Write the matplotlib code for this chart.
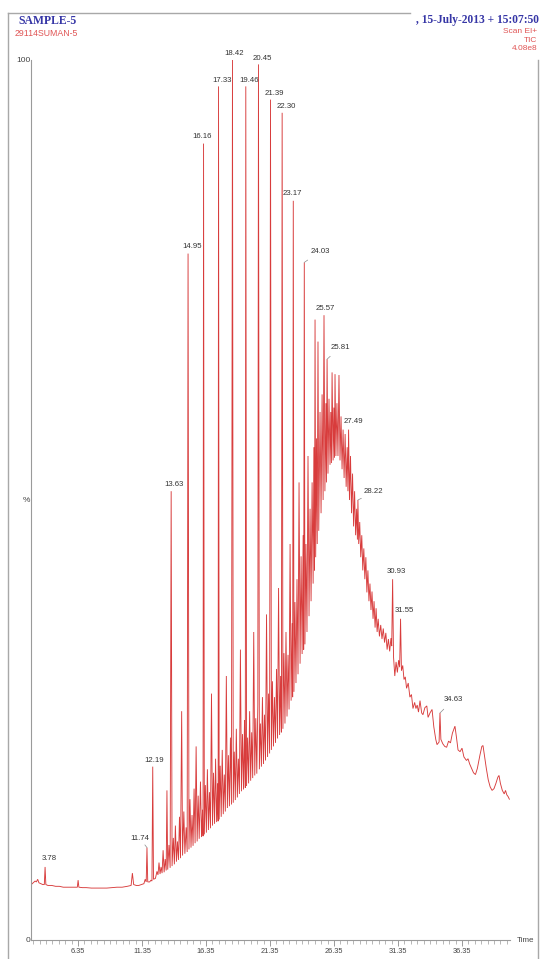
import matplotlib
matplotlib.use("Agg")
import numpy as np
from matplotlib import pyplot as plt
from matplotlib.lines import Line2D

plt.rcParams['font.family'] = ['Liberation Sans', 'DejaVu Sans']

# TIC trace: retention time (min) and intensity (% of base peak), in three stretches
rt_flat = [2.70, 2.85, 3.00, 3.10, 3.20, 3.30, 3.45, 3.60, 3.72, 3.78,
           3.84, 4.00, 4.30, 4.60, 4.90, 5.20, 5.50, 5.80, 6.10, 6.30,
           6.36, 6.42, 6.70, 7.00, 7.40, 7.80, 8.20, 8.60, 9.00, 9.40,
           9.80, 10.20, 10.50, 10.60, 10.70, 10.90, 11.10, 11.30, 11.50, 11.60,
           11.68, 11.74, 11.80, 11.95, 12.05, 12.13, 12.19, 12.25, 12.40, 12.52]
tic_flat = [6.3, 6.5, 6.7, 6.6, 6.9, 6.5, 6.4, 6.3, 6.3, 8.3,
            6.3, 6.2, 6.2, 6.1, 6.1, 6.0, 6.0, 6.0, 6.0, 6.0,
            6.8, 6.0, 5.95, 5.95, 5.9, 5.9, 5.9, 5.9, 5.95, 6.0,
            6.0, 6.1, 6.2, 7.6, 6.3, 6.2, 6.2, 6.3, 6.4, 6.9,
            6.6, 10.5, 6.6, 6.6, 6.8, 6.7, 19.7, 6.9, 7.0, 7.8]

rt_hump = [12.60, 12.68, 12.76, 12.84, 12.92, 13.00, 13.08, 13.16, 13.24, 13.30,
           13.36, 13.46, 13.55, 13.63, 13.70, 13.80, 13.88, 13.96, 14.04, 14.12,
           14.20, 14.28, 14.36, 14.45, 14.52, 14.62, 14.70, 14.80, 14.88, 14.95,
           15.02, 15.10, 15.18, 15.26, 15.34, 15.42, 15.50, 15.58, 15.66, 15.74,
           15.82, 15.92, 16.00, 16.08, 16.12, 16.16, 16.22, 16.30, 16.38, 16.46,
           16.54, 16.62, 16.70, 16.78, 16.86, 16.94, 17.02, 17.10, 17.18, 17.26,
           17.30, 17.33, 17.38, 17.46, 17.54, 17.62, 17.70, 17.78, 17.86, 17.94,
           18.02, 18.10, 18.18, 18.26, 18.34, 18.42, 18.48, 18.56, 18.64, 18.72,
           18.80, 18.88, 18.96, 19.04, 19.12, 19.20, 19.28, 19.36, 19.42, 19.46,
           19.52, 19.60, 19.68, 19.76, 19.84, 19.92, 20.00, 20.08, 20.16, 20.24,
           20.32, 20.40, 20.45, 20.52, 20.60, 20.68, 20.76, 20.84, 20.92, 21.00,
           21.08, 21.16, 21.24, 21.32, 21.39, 21.46, 21.54, 21.62, 21.70, 21.78,
           21.86, 21.94, 22.02, 22.10, 22.18, 22.24, 22.30, 22.36, 22.44, 22.52,
           22.60, 22.68, 22.76, 22.84, 22.92, 23.00, 23.08, 23.12, 23.17, 23.22,
           23.30, 23.38, 23.46, 23.54, 23.62, 23.70, 23.78, 23.86, 23.94, 23.98,
           24.03, 24.08, 24.16, 24.24, 24.32, 24.40, 24.48, 24.56, 24.64, 24.72,
           24.78, 24.83, 24.87, 24.92, 24.98, 25.04, 25.10, 25.16, 25.26, 25.34,
           25.42, 25.50, 25.57, 25.64, 25.72, 25.76, 25.81, 25.88, 25.96, 26.04,
           26.10, 26.15, 26.20, 26.28, 26.34, 26.39, 26.43, 26.50, 26.58, 26.66,
           26.74, 26.82, 26.90, 26.98, 27.06, 27.14, 27.22, 27.30, 27.38, 27.44,
           27.49, 27.56, 27.64, 27.72, 27.80, 27.88, 27.96, 28.04, 28.12, 28.18,
           28.22, 28.28, 28.36, 28.44, 28.52, 28.60, 28.68, 28.76, 28.84, 28.92,
           29.00, 29.08, 29.16, 29.24, 29.32, 29.40, 29.48, 29.56, 29.64, 29.72,
           29.80, 29.90, 30.00]
tic_hump = [7.4, 8.8, 7.5, 8.3, 7.6, 10.2, 7.7, 9.2, 7.9, 17.0,
            8.0, 10.8, 8.2, 51.0, 8.4, 11.6, 8.6, 13.0, 8.9, 11.2,
            9.1, 14.0, 9.3, 26.0, 9.6, 14.6, 9.8, 12.8, 10.0, 78.0,
            10.3, 16.0, 10.5, 14.2, 10.7, 17.2, 11.0, 22.0, 11.2, 16.4,
            11.5, 18.0, 11.7, 14.8, 11.8, 90.5, 12.0, 17.6, 12.2, 19.4,
            12.5, 16.8, 12.7, 28.0, 13.0, 19.0, 13.2, 20.6, 13.4, 17.8,
            13.5, 97.0, 13.7, 19.8, 14.0, 21.6, 14.3, 18.8, 14.6, 30.0,
            15.0, 21.0, 15.2, 23.0, 15.4, 100.0, 15.6, 21.4, 15.9, 24.0,
            16.2, 20.6, 16.6, 33.0, 16.9, 23.4, 17.1, 25.0, 17.3, 97.0,
            17.5, 23.0, 17.8, 26.0, 18.1, 23.6, 18.4, 35.0, 18.7, 25.2,
            18.9, 26.8, 99.5, 19.4, 24.6, 19.7, 27.6, 20.0, 25.6, 20.4,
            37.0, 20.8, 28.0, 21.2, 95.5, 21.6, 29.4, 22.0, 27.6, 22.4,
            30.8, 22.9, 40.0, 23.3, 30.0, 23.6, 94.0, 24.0, 32.6, 24.6,
            35.0, 25.4, 32.4, 26.2, 45.0, 27.2, 36.0, 27.6, 84.0, 28.2,
            38.4, 29.2, 41.0, 30.2, 52.0, 31.4, 43.6, 32.5, 46.0, 33.0,
            77.0, 33.6, 45.0, 35.0, 55.0, 36.8, 49.0, 38.5, 52.0, 40.5,
            56.0, 42.0, 70.5, 43.5, 57.0, 45.0, 68.0, 46.5, 60.0, 48.5,
            62.0, 50.0, 71.0, 51.0, 61.0, 52.0, 66.0, 53.0, 61.5, 54.0,
            60.0, 54.2, 64.5, 54.5, 60.5, 54.8, 64.3, 55.0, 61.0, 55.0,
            64.2, 54.5, 59.5, 53.5, 58.0, 52.5, 57.5, 51.5, 56.0, 51.0,
            58.0, 50.0, 55.0, 48.5, 53.0, 47.0, 51.0, 46.0, 49.0, 45.5,
            50.0, 45.0, 47.5, 43.5, 46.0, 42.0, 44.5, 41.0, 43.5, 39.5,
            42.0, 38.5, 40.5, 37.5, 39.6, 36.5, 38.5, 35.5, 37.7, 35.0,
            36.5, 34.5, 35.8]

rt_tail = [30.10, 30.20, 30.30, 30.40, 30.50, 30.60, 30.70, 30.80, 30.86, 30.93,
           31.00, 31.10, 31.20, 31.30, 31.40, 31.48, 31.55, 31.62, 31.72, 31.82,
           31.92, 32.02, 32.15, 32.28, 32.40, 32.52, 32.65, 32.75, 32.85, 32.95,
           33.07, 33.20, 33.30, 33.45, 33.60, 33.70, 33.85, 34.01, 34.15, 34.30,
           34.40, 34.56, 34.63, 34.70, 34.85, 35.00, 35.15, 35.30, 35.45, 35.60,
           35.80, 35.92, 36.04, 36.20, 36.35, 36.50, 36.70, 36.82, 36.95, 37.10,
           37.25, 37.40, 37.55, 37.75, 37.90, 37.99, 38.10, 38.25, 38.40, 38.55,
           38.70, 38.85, 39.00, 39.15, 39.24, 39.35, 39.50, 39.65, 39.75, 39.85,
           39.95, 40.05]
tic_tail = [34.2, 35.4, 33.8, 34.9, 33.0, 34.2, 32.8, 34.3, 33.4, 41.0,
            32.2, 30.0, 31.6, 30.4, 31.8, 31.0, 36.5, 30.6, 31.2, 29.6,
            29.9, 28.6, 29.2, 27.6, 27.9, 26.3, 27.0, 26.3, 26.7, 25.9,
            27.2, 25.8, 25.6, 26.4, 26.6, 25.3, 25.8, 26.2, 24.2, 22.8,
            22.2, 22.5, 25.8, 22.8, 22.3, 22.0, 21.9, 22.6, 22.4, 23.5,
            24.3, 23.0, 21.6, 21.4, 21.8, 20.8, 20.4, 20.6, 20.0, 19.5,
            19.0, 18.8, 19.5, 21.0, 22.0, 22.1, 21.0, 19.5, 18.2, 17.4,
            17.0, 17.2, 17.8, 18.5, 18.7, 17.8, 17.0, 16.6, 17.0, 16.5,
            16.3, 16.0]

# peaks that carry a retention-time label
labelled = [3.78, 11.74, 12.19, 13.63, 14.95, 16.16, 17.33, 18.42, 19.46, 20.45,
            21.39, 22.30, 23.17, 24.03, 25.57, 25.81, 27.49, 28.22, 30.93, 31.55,
            34.63]

time_ticks = [6.35, 11.35, 16.35, 21.35, 26.35, 31.35, 36.35]

sample_name = "SAMPLE-5"
sample_id = "29114SUMAN-5"
acquired = ", 15-July-2013 + 15:07:50"
scan_info = ["Scan EI+", "TIC", "4.08e8"]

# label centre offset from the peak apex, in pixels (dx, dy)
label_shift = {3.78: (4, 8), 11.74: (-7, 9), 12.19: (1, 6), 13.63: (3, 7),
               14.95: (4, 7), 16.16: (-2, 7), 17.33: (4, 6), 18.42: (2, 6),
               19.46: (3, 6), 20.45: (4, 6), 21.39: (4, 6), 22.30: (4, 6),
               23.17: (-1, 7), 24.03: (16, 11), 25.57: (1, 7), 25.81: (13, 12),
               27.49: (5, 8), 28.22: (16, 8), 30.93: (4, 8), 31.55: (4, 8),
               34.63: (13, 13)}

rt = rt_flat + rt_hump + rt_tail
tic = tic_flat + tic_hump + tic_tail

W, H = 542, 959
fig = plt.figure(figsize=(W / 100, H / 100), dpi=100)
ax = fig.add_axes([31 / W, 1 - 940 / H, 479 / W, 880 / H])

ax.plot(rt, tic, color='#d83c3c', lw=0.65, solid_joinstyle='miter')
ax.set_xlim(2.68, 40.1)
ax.set_ylim(0, 100)

for side in ['top', 'right']:
    ax.spines[side].set_visible(False)
for side in ['left', 'bottom']:
    ax.spines[side].set_color('#9a9a9a')
    ax.spines[side].set_linewidth(0.8)

ax.set_xticks(time_ticks)
ax.set_xticklabels(["%.2f" % t for t in time_ticks])
ax.set_xticks(np.arange(2.85, 40.0, 0.5), minor=True)
ax.tick_params(axis='x', which='major', direction='out', length=4.5, width=0.6,
               color='#8a8a8a', labelsize=5.3, labelcolor='#444444', pad=1.5)
ax.tick_params(axis='x', which='minor', direction='out', length=3, width=0.5,
               color='#9a9a9a')
ax.set_yticks([0, 50, 100])
ax.set_yticklabels(['0', '%', '100'])
ax.tick_params(axis='y', length=0, pad=0.5, labelsize=6, labelcolor='#444444')

for t in labelled:
    h = tic[rt.index(t)]
    dx, dy = label_shift[t]
    leader = abs(dx) > 6
    ax.annotate("%.2f" % t, xy=(t, h), xytext=(dx, dy), textcoords='offset pixels',
                ha='center', va='center', fontsize=5.6, color='#333333',
                arrowprops=dict(arrowstyle='-', color='#8a8a8a', lw=0.5,
                                shrinkA=3, shrinkB=0) if leader else None)

fig.text(517 / W, 1 - 941 / H, "Time", fontsize=5.8, color='#444444',
         ha='left', va='center')

# header block
fig.text(18 / W, 1 - 21 / H, sample_name, fontsize=8.5, fontweight='bold',
         family='Liberation Serif', color='#3636a6', ha='left', va='center')
fig.text(15 / W, 1 - 34 / H, sample_id, fontsize=6.3, color='#e05555',
         ha='left', va='center')
fig.text(539 / W, 1 - 20 / H, acquired, fontsize=8.3, fontweight='bold',
         family='Liberation Serif', color='#3636a6', ha='right', va='center')
for i, line in enumerate(scan_info):
    fig.text(537 / W, 1 - (31.5 + 8.5 * i) / H, line, fontsize=6,
             color='#e05555', ha='right', va='center')

# page frame
frame = dict(color='#a8a8a8', lw=1.0)
fig.add_artist(Line2D([8 / W, 8 / W], [0, 1 - 13 / H], **frame))
fig.add_artist(Line2D([8 / W, 410 / W], [1 - 13 / H, 1 - 13 / H], **frame))
fig.add_artist(Line2D([537.5 / W, 537.5 / W], [0, 1 - 60 / H], **frame))

fig.savefig("out.png", dpi=100)
